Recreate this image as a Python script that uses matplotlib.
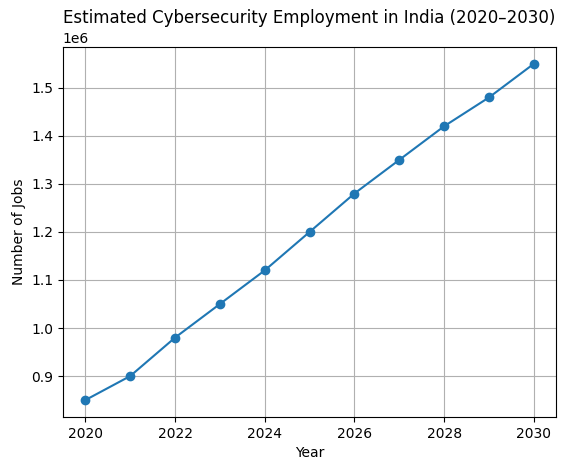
import matplotlib.pyplot as plt

years = [2020, 2021, 2022, 2023, 2024, 2025, 2026, 2027, 2028, 2029, 2030]
jobs = [850000, 900000, 980000, 1050000, 1120000, 1200000,
        1280000, 1350000, 1420000, 1480000, 1550000]

fig, ax = plt.subplots(figsize=(5.67, 4.70), dpi=100)
plt.subplots_adjust(left=0.111, right=0.981, top=0.900, bottom=0.113)

ax.plot(years, jobs, marker='o')
ax.set_title('Estimated Cybersecurity Employment in India (2020–2030)')
ax.set_xlabel('Year')
ax.set_ylabel('Number of Jobs')
ax.grid(True)

plt.savefig('out.png')
